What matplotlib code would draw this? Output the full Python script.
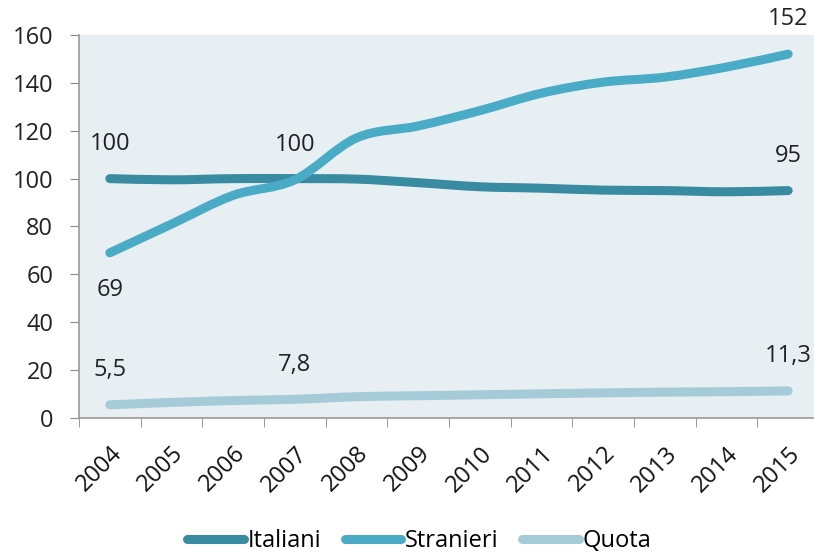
import numpy as np
import matplotlib.pyplot as plt
from matplotlib.path import Path
from matplotlib.patches import PathPatch
from matplotlib.lines import Line2D

plt.rcParams['font.family'] = ['Open Sans', 'DejaVu Sans']

years = ["2004", "2005", "2006", "2007", "2008", "2009",
         "2010", "2011", "2012", "2013", "2014", "2015"]
italiani = [100, 99.5, 100, 100, 99.8, 98.3, 96.6, 96, 95.2, 95, 94.5, 95]
stranieri = [69, 81, 93, 99.5, 117, 122, 128.4, 135.7, 140.3, 142.4, 146.6, 152]
quota = [5.5, 6.5, 7.3, 7.8, 8.9, 9.3, 9.7, 10.1, 10.5, 10.8, 11.0, 11.3]

series_names = ["Italiani", "Stranieri", "Quota"]
colors = ["#388ba0", "#4aabc6", "#a5cad8"]

# labels shown on the chart: (series, index, text, above?)
labels = [
    (italiani, 0, "100", True),
    (stranieri, 3, "100", True),
    (italiani, 11, "95", True),
    (stranieri, 0, "69", False),
    (stranieri, 11, "152", True),
    (quota, 0, "5,5", True),
    (quota, 3, "7,8", True),
    (quota, 11, "11,3", True),
]


def smooth_path(xs, ys):
    # Excel-like smoothed line: cubic bezier through the points
    pts = np.column_stack([xs, ys]).astype(float)
    verts = [pts[0]]
    codes = [Path.MOVETO]
    n = len(pts)
    for i in range(n - 1):
        p0 = pts[i - 1] if i > 0 else pts[i]
        p1 = pts[i]
        p2 = pts[i + 1]
        p3 = pts[i + 2] if i + 2 < n else pts[i + 1]
        c1 = p1 + (p2 - p0) / 6.0
        c2 = p2 - (p3 - p1) / 6.0
        verts += [c1, c2, p2]
        codes += [Path.CURVE4] * 3
    return Path(verts, codes)


fig = plt.figure(figsize=(8.14, 5.53), dpi=100)
ax = fig.add_axes([79 / 814, 1 - 418 / 553, 740 / 814, 383 / 553])
ax.set_facecolor("#e8eff3")

x = np.arange(len(years))
for vals, c in zip([italiani, stranieri, quota], colors):
    patch = PathPatch(smooth_path(x, vals), fill=False, edgecolor=c,
                      lw=6.5, capstyle="round", joinstyle="round")
    ax.add_patch(patch)

for vals, i, txt, above in labels:
    off = 25 if above else -27
    ax.annotate(txt, (x[i], vals[i]), xytext=(0, off), textcoords="offset points",
                ha="center", va="center", fontsize=17, color="#222222")

ax.set_xlim(-0.5, 11.5)
ax.set_ylim(0, 160)
ax.set_yticks(range(0, 161, 20))
ax.tick_params(axis="y", labelsize=17, length=6.5, color="#888888", labelcolor="#222222", pad=12)

ax.set_xticks(x)
ax.set_xticklabels(years, rotation=45, ha="right", rotation_mode="anchor", fontsize=17, color="#111111")
ax.tick_params(axis="x", length=0, pad=17)
ax.set_xticks(np.arange(-0.5, 12, 1), minor=True)
ax.tick_params(axis="x", which="minor", length=6.5, color="#888888")

for s in ["top", "right"]:
    ax.spines[s].set_visible(False)
for s in ["left", "bottom"]:
    ax.spines[s].set_color("#999999")
    ax.spines[s].set_linewidth(1.2)

handles = [Line2D([0], [0], color=c, lw=6.5, solid_capstyle="round") for c in colors]
fig.legend(handles, series_names, loc="center", bbox_to_anchor=(0.515, 0.022),
           ncol=3, frameon=False, fontsize=17, handlelength=2.4, handletextpad=0.15,
           columnspacing=1.0, borderpad=0)

fig.savefig("out.png", dpi=100)
